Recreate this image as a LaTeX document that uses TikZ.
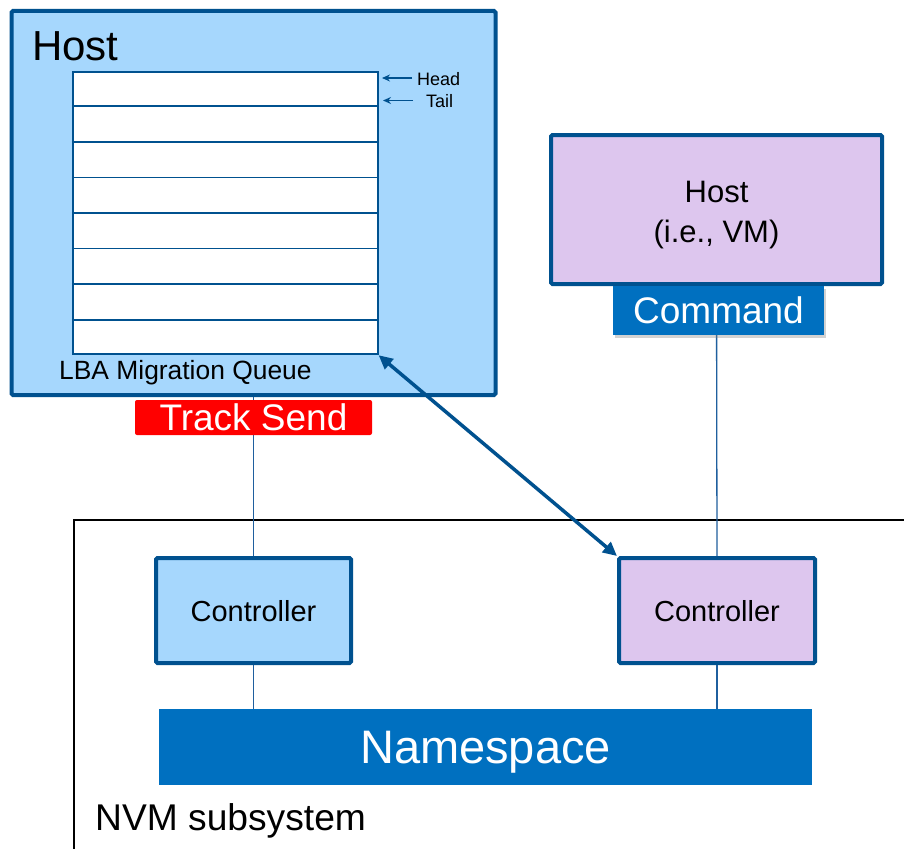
\documentclass[tikz,border=0pt]{standalone}
\usepackage{fontspec}
\setmainfont{Liberation Sans}
\usetikzlibrary{arrows.meta,calc,shadows}
\definecolor{bdark}{HTML}{00518F}
\definecolor{lblue}{HTML}{A6D7FD}
\definecolor{lilac}{HTML}{DDC6EE}
\definecolor{mblue}{HTML}{0070C0}
\definecolor{linec}{HTML}{1F5F9E}
\newcommand{\fsz}[1]{\fontsize{#1}{#1}\selectfont}
\tikzset{
  x=1pt,y=-1pt,
  boxthick/.style={draw=bdark,line width=4pt,rounded corners=1.5pt,inner sep=0pt},
  thinline/.style={draw=linec,line width=1.3pt},
  bluelbl/.style={fill=mblue,text=white,inner sep=0pt},
  rowline/.style={draw=bdark,line width=1.8pt},
  ptr/.style={draw=bdark,line width=1.8pt,-{Stealth[length=8pt,width=7pt]}},
  dbl/.style={draw=bdark,line width=3.5pt,{Triangle[length=14pt,width=13pt]}-{Triangle[length=14pt,width=13pt]}},
}
\begin{document}
\begin{tikzpicture}
\useasboundingbox (0,0) rectangle (904,848);
\fill[white] (0,0) rectangle (904,848);
% NVM subsystem
\begin{scope}
\clip (0,0) rectangle (904,848);
\node[draw=black,line width=2pt,inner sep=0pt,minimum width=850pt,minimum height=340pt] (nvm) at (499,690) {};
\end{scope}
\node[anchor=base west,inner sep=0pt] (nvmlbl) at (95,830) {\fsz{37.2}NVM subsystem};
% left host
\node[boxthick,fill=lblue,minimum width=484pt,minimum height=384pt] (host1) at (253.5,203) {};
\node[anchor=base west,inner sep=0pt] (host1lbl) at (32,61) {\fsz{42}Host};
\node[draw=bdark,line width=1.8pt,fill=white,inner sep=0pt,minimum width=305pt,minimum height=282.6pt] (q) at (225.2,213) {};
\foreach \k in {1,...,7}{
  \draw[rowline] ($(q.north west)!\k/8!(q.south west)$) -- ($(q.north east)!\k/8!(q.south east)$);
}
\node[anchor=base west,inner sep=0pt] (qlbl) at (59,379) {\fsz{26.4}LBA Migration Queue};
\node[anchor=west,inner sep=0pt] (headlbl) at (417,79) {\fsz{18}Head};
\node[anchor=west,inner sep=0pt] (taillbl) at (426,101) {\fsz{18}Tail};
\coordinate (headtip) at (382,78);
\coordinate (tailtip) at (383,100.5);
\coordinate (headtail) at (412,78);
\coordinate (tailtail) at (413,100.5);
\draw[ptr] (headtail) -- (headtip);
\draw[ptr] (tailtail) -- (tailtip);
% controllers
\node[boxthick,fill=lblue,minimum width=195pt,minimum height=105pt,text depth=0pt] (ctrl1) at (253.5,610.5) {\fsz{29}Controller};
\node[boxthick,fill=lilac,minimum width=196pt,minimum height=105pt,text depth=0pt] (ctrl2) at (717,610.5) {\fsz{29}Controller};
% right host
\node[boxthick,fill=lilac,minimum width=331pt,minimum height=149pt] (host2) at (716.5,209.5) {};
\node[anchor=base,inner sep=0pt] (host2a) at (716.5,202) {\fsz{31}Host};
\node[anchor=base,inner sep=0pt] (host2b) at (716.5,242) {\fsz{31}(i.e., VM)};
% connectors
\draw[thinline] (host1.south) -- (ctrl1.north);
\draw[thinline] (host2.south) -- (ctrl2.north);
\node[fill=red,text=white,inner sep=0pt,rounded corners=2pt,minimum width=237pt,minimum height=35pt,text depth=0pt] (tsend) at (253.5,417.5) {\fsz{37}Track Send};
\node[bluelbl,minimum width=211pt,minimum height=49pt,text depth=0pt,drop shadow={opacity=0.35,shadow xshift=2pt,shadow yshift=-3pt}] (cmd) at (718.5,310.5) {\fsz{37}Command};
% namespace
\node[bluelbl,minimum width=653pt,minimum height=76pt,text depth=0pt] (ns) at (485.5,747) {\fsz{47}Namespace};
\draw[thinline] (ctrl1.south) -- (ctrl1.south |- ns.north);
\draw[thinline] (ctrl2.south) -- (ctrl2.south |- ns.north);
% double arrow
\draw[dbl] (q.south east) -- (ctrl2.north west);
\end{tikzpicture}
\end{document}
